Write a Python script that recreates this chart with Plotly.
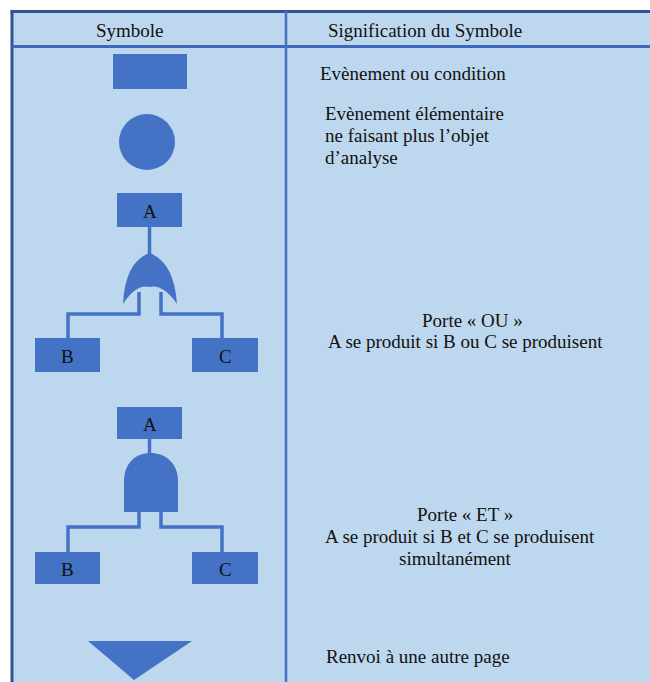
import plotly.graph_objects as go

# ---------------- data ----------------
header_labels = ["Symbole", "Signification du Symbole"]
header_pos = [(130, 30, "center"), (326, 30, "left")]

desc_lines = [
    ("Evènement ou condition", 318, 73, "left"),
    ("Evènement élémentaire", 323, 113, "left"),
    ("ne faisant plus l’objet", 323, 135, "left"),
    ("d’analyse", 323, 157, "left"),
    ("Porte « OU »", 472, 320, "center"),
    ("A se produit si B ou C se produisent", 326, 341, "left"),
    ("Porte « ET »", 465, 514, "center"),
    ("A se produit si B et C se produisent", 323, 536, "left"),
    ("simultanément", 455, 558, "center"),
    ("Renvoi à une autre page", 324, 656, "left"),
]

# boxes: (label, x0, y0, x1, y1)
boxes = [
    ("", 113, 54, 187, 89),
    ("A", 117, 193, 182, 227),
    ("B", 35, 338, 100, 372),
    ("C", 192, 338, 258, 372),
    ("A", 117, 407, 182, 439),
    ("B", 35, 552, 100, 584),
    ("C", 192, 552, 258, 584),
]
circle = (119, 114, 175, 170)

# connector polylines
connectors = [
    [(149.5, 227), (149.5, 256)],
    [(139, 292), (139, 314), (68, 314), (68, 338)],
    [(161, 292), (161, 314), (222, 314), (222, 338)],
    [(149.5, 439), (149.5, 455)],
    [(139, 511), (139, 527), (68, 527), (68, 552)],
    [(161, 511), (161, 527), (222, 527), (222, 552)],
]

or_gate = "M 123 304 Q 125 262 149.5 253 Q 174 262 177 304 Q 163 284 149.5 287 Q 136 284 123 304 Z"
and_gate = "M 124 512 L 124 481 C 124 463 136 453 150.5 453 C 165 453 178 463 178 481 L 178 512 Z"
triangle = [(88, 641), (192, 641), (134, 680)]

# ---------------- style ----------------
BG = "#BDD7EE"
SHAPE = "#4472C4"
BORDER = "#2F5597"
TXT = "#111111"
FONT = "'Liberation Serif', 'Times New Roman', Times, serif"
FS = 19

fig = go.Figure()
shapes = []

# background
shapes.append(dict(type="rect", x0=12, y0=11, x1=650, y1=682, fillcolor=BG, line=dict(width=0), layer="below"))
# borders
shapes.append(dict(type="line", x0=10.5, y0=11.5, x1=650, y1=11.5, line=dict(color=BORDER, width=3)))
shapes.append(dict(type="line", x0=12, y0=10, x1=12, y1=682, line=dict(color=BORDER, width=3)))
shapes.append(dict(type="line", x0=12, y0=46.5, x1=650, y1=46.5, line=dict(color="#3D68BA", width=3)))
shapes.append(dict(type="line", x0=286, y0=11, x1=286, y1=682, line=dict(color=SHAPE, width=2.5)))

for lab, x0, y0, x1, y1 in boxes:
    shapes.append(dict(type="rect", x0=x0, y0=y0, x1=x1, y1=y1, fillcolor=SHAPE, line=dict(width=0)))
shapes.append(dict(type="circle", x0=circle[0], y0=circle[1], x1=circle[2], y1=circle[3],
                   fillcolor=SHAPE, line=dict(width=0)))
for pts in connectors:
    path = "M " + " L ".join(f"{x} {y}" for x, y in pts)
    shapes.append(dict(type="path", path=path, line=dict(color=SHAPE, width=3.5)))
shapes.append(dict(type="path", path=or_gate, fillcolor=SHAPE, line=dict(width=0)))
shapes.append(dict(type="path", path=and_gate, fillcolor=SHAPE, line=dict(width=0)))
tri = "M " + " L ".join(f"{x} {y}" for x, y in triangle) + " Z"
shapes.append(dict(type="path", path=tri, fillcolor=SHAPE, line=dict(width=0)))

annotations = []
for lab, (x, y, anc) in zip(header_labels, header_pos):
    annotations.append(dict(x=x, y=y, text=lab, xanchor=anc, yanchor="middle", showarrow=False,
                            font=dict(family=FONT, size=FS, color=TXT)))
for text, x, y, anc in desc_lines:
    annotations.append(dict(x=x, y=y, text=text, xanchor=anc, yanchor="middle", showarrow=False,
                            font=dict(family=FONT, size=FS, color=TXT)))
for lab, x0, y0, x1, y1 in boxes:
    if lab:
        annotations.append(dict(x=(x0 + x1) / 2, y=(y0 + y1) / 2 + 1, text=lab, xanchor="center",
                                yanchor="middle", showarrow=False,
                                font=dict(family=FONT, size=FS, color=TXT)))

fig.update_layout(
    width=650, height=682,
    margin=dict(l=0, r=0, t=0, b=0),
    paper_bgcolor="white", plot_bgcolor="white",
    xaxis=dict(range=[0, 650], visible=False, fixedrange=True),
    yaxis=dict(range=[682, 0], visible=False, fixedrange=True),
    shapes=shapes, annotations=annotations, showlegend=False,
)
fig.write_html("out.html", config={"displayModeBar": False},
               post_script="document.body.style.margin='0';document.body.style.overflow='hidden';")
